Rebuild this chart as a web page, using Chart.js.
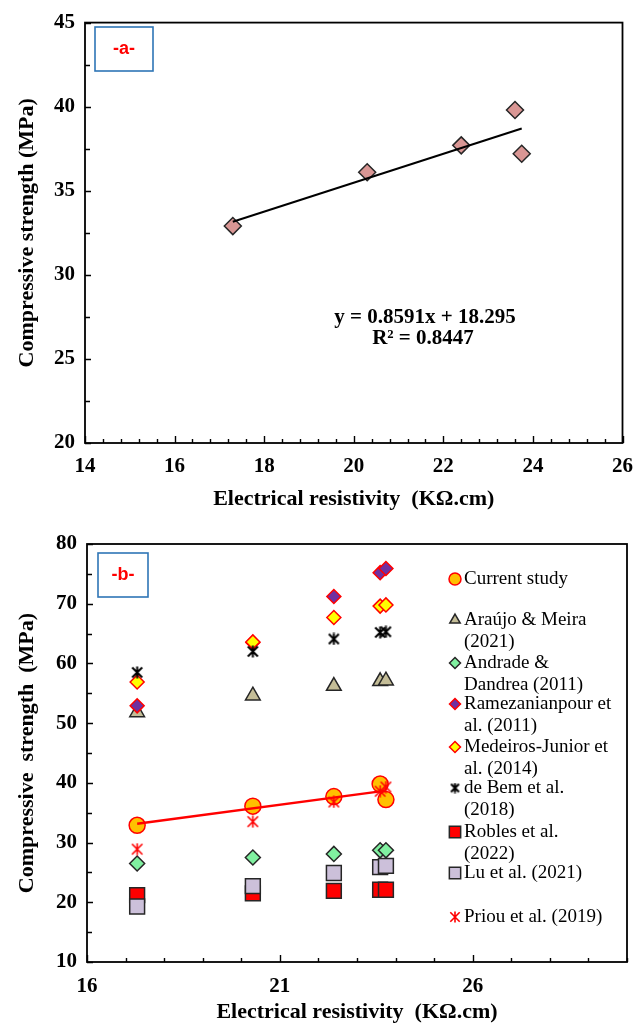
<!DOCTYPE html>
<html>
<head>
<meta charset="utf-8">
<script src="https://cdn.jsdelivr.net/npm/chart.js@4.4.1/dist/chart.umd.min.js"></script>
<style>
body{margin:0;background:#fff;}
canvas{display:block;}
</style>
</head>
<body>
<canvas id="chartA" width="644" height="520"></canvas>
<canvas id="chartB" width="644" height="506"></canvas>
<script>

// resistivity of the mixes (KΩ.cm), same for every series
const resistivity = [17.3, 20.3, 22.4, 23.6, 23.75];

// compressive strength (MPa)
const currentStudy = [32.9, 36.1, 37.7, 39.8, 37.2];
const araujoMeira = [51.8, 54.6, 56.2, 57.0, 57.1];
const andradeDandrea = [26.5, 27.5, 28.1, 28.7, 28.7];
const ramezanianpour = [52.9, 63.5, 71.2, 75.2, 75.9];
const medeirosJunior = [56.9, 63.6, 67.7, 69.6, 69.8];
const deBem = [58.5, 62.0, 64.1, 65.2, 65.3];
const robles = [21.2, 21.5, 21.9, 22.1, 22.1];
const luEtAl = [19.3, 22.7, 24.9, 25.9, 26.1];
const priou = [28.9, 33.5, 36.8, 38.6, 39.3];

// linear fit of the current study
const fitSlope = 0.8591;
const fitIntercept = 18.295;
const fitR2 = 0.8447;

// ticks
const aXLabels = [14, 16, 18, 20, 22, 24, 26];
const aXStep = 0.4;
const aYLabels = [20, 25, 30, 35, 40, 45];
const aYStep = 2.5;
const bXLabels = [16, 21, 26];
const bXMax = 30;
const bXStep = 1;
const bYLabels = [10, 20, 30, 40, 50, 60, 70, 80];
const bYStep = 5;

const serif = "'Liberation Serif', 'Times New Roman', serif";
const sans = "'Liberation Sans', Arial, sans-serif";

function tickValues(first, last, step){
    const out = [];
    const n = Math.round((last - first) / step);
    for(let i = 0; i <= n; i++){
        out.push(+(first + i * step).toFixed(4));
    }
    return out;
}

function isLabel(labels, v){
    return labels.some(l => Math.abs(l - v) < 1e-6);
}

function points(values){
    return resistivity.map((x, i) => ({x, y: values[i]}));
}

function fitLine(){
    const x0 = Math.min(...resistivity);
    const x1 = Math.max(...resistivity);
    return [
        {x: x0, y: fitSlope * x0 + fitIntercept},
        {x: x1, y: fitSlope * x1 + fitIntercept}
    ];
}

// asterisk marker: an X crossed by a vertical stroke
function asterisk(size, color, lw){
    const c = document.createElement('canvas');
    c.width = size;
    c.height = size;
    const g = c.getContext('2d');
    g.strokeStyle = color;
    g.lineWidth = lw;
    const m = lw / 2 + 0.5;
    const e = size - m;
    g.beginPath();
    g.moveTo(m, m); g.lineTo(e, e);
    g.moveTo(e, m); g.lineTo(m, e);
    g.moveTo(size / 2, 0.5); g.lineTo(size / 2, size - 0.5);
    g.stroke();
    return c;
}

function xAxis(min, max, labels, step, height, labelPad, titlePad){
    return {
        type: 'linear',
        min, max,
        afterBuildTicks: s => { s.ticks = tickValues(min, max, step).map(v => ({value: v})); },
        afterFit: s => { s.height = height; },
        grid: {display: false, drawTicks: false},
        border: {display: false},
        ticks: {
            autoSkip: false, maxRotation: 0, minRotation: 0,
            padding: labelPad, color: '#000',
            font: {family: serif, size: 21, weight: 'bold'},
            callback: v => isLabel(labels, v) ? String(v) : ''
        },
        title: {
            display: true, text: 'Electrical resistivity  (KΩ.cm)', color: '#000',
            font: {family: serif, size: 22, weight: 'bold'},
            padding: {top: 0, bottom: titlePad}
        }
    };
}

function yAxis(min, max, labels, step, width, title){
    return {
        type: 'linear',
        min, max,
        afterBuildTicks: s => { s.ticks = tickValues(min, max, step).map(v => ({value: v})); },
        afterFit: s => { s.width = width; },
        grid: {display: false, drawTicks: false},
        border: {display: false},
        ticks: {
            autoSkip: false, padding: 10, color: '#000',
            font: {family: serif, size: 21, weight: 'bold'},
            callback: v => isLabel(labels, v) ? String(v) : ''
        },
        title: {
            display: true, text: title, color: '#000',
            font: {family: serif, size: 22, weight: 'bold'},
            padding: {top: 14, bottom: 0}
        }
    };
}

// frame, inward ticks, panel tag and extras drawn over the chart
function decor(tag, box, extra){
    return {
        id: 'decor',
        afterDraw(chart){
            const {ctx, chartArea: a, scales} = chart;
            ctx.save();
            ctx.strokeStyle = '#000';
            ctx.lineWidth = 1.4;
            ctx.beginPath();
            scales.x.ticks.forEach(t => {
                const px = Math.round(scales.x.getPixelForValue(t.value)) + 0.5;
                const len = t.label ? 7 : 4;
                ctx.moveTo(px, a.bottom);
                ctx.lineTo(px, a.bottom - len);
            });
            scales.y.ticks.forEach(t => {
                const py = Math.round(scales.y.getPixelForValue(t.value)) + 0.5;
                const len = t.label ? 6 : 5;
                ctx.moveTo(a.left, py);
                ctx.lineTo(a.left + len, py);
            });
            ctx.stroke();

            ctx.lineWidth = 1.8;
            ctx.strokeRect(a.left, a.top, a.right - a.left, a.bottom - a.top);

            ctx.strokeStyle = '#2E75B6';
            ctx.lineWidth = 1.6;
            ctx.strokeRect(box[0], box[1], box[2], box[3]);
            ctx.fillStyle = '#FF0000';
            ctx.font = `bold 18px ${sans}`;
            ctx.textAlign = 'center';
            ctx.textBaseline = 'middle';
            ctx.fillText(tag, box[0] + box[2] / 2, box[1] + box[3] / 2);

            if(extra){
                extra(ctx, chart);
            }
            ctx.restore();
        }
    };
}

// ---- panel a ----

new Chart(document.getElementById('chartA'), {
    type: 'scatter',
    data: {
        datasets: [
            {
                data: fitLine(),
                showLine: true,
                borderColor: '#000',
                borderWidth: 2,
                pointRadius: 0,
                order: 0
            },
            {
                data: points(currentStudy),
                pointStyle: 'rectRot',
                pointRadius: 8.5,
                pointBackgroundColor: '#D99694',
                pointBorderColor: '#262626',
                pointBorderWidth: 1.5,
                order: 1
            }
        ]
    },
    options: {
        responsive: false,
        animation: false,
        layout: {padding: {left: 0, right: 17, top: 19, bottom: 0}},
        plugins: {legend: {display: false}, tooltip: {enabled: false}},
        scales: {
            x: xAxis(14, 26, aXLabels, aXStep, 77, 11, 7),
            y: yAxis(20, 45, aYLabels, aYStep, 85, 'Compressive strength (MPa)')
        }
    },
    plugins: [decor('-a-', [95, 27, 58, 44], (ctx) => {
        ctx.fillStyle = '#000';
        ctx.font = `bold 21px ${serif}`;
        ctx.textAlign = 'center';
        ctx.fillText(`y = ${fitSlope}x + ${fitIntercept}`, 425, 318);
        ctx.fillText(`R² = ${fitR2}`, 423, 339);
    })]
});

// ---- panel b ----

const seriesB = [
    {name: ['Current study'], values: currentStudy, style: 'circle', radius: 8, legendRadius: 6,
     fill: '#FFC000', stroke: '#FF0000', width: 1.5, order: 2},
    {name: ['Araújo & Meira', '(2021)'], values: araujoMeira, style: 'triangle', radius: 8.5, legendRadius: 6,
     fill: '#C4BD97', stroke: '#262626', width: 1.5, order: 9},
    {name: ['Andrade &', 'Dandrea (2011)'], values: andradeDandrea, style: 'rectRot', radius: 7.5, legendRadius: 5.5,
     fill: '#80F0A0', stroke: '#262626', width: 1.5, order: 8},
    {name: ['Ramezanianpour et', 'al. (2011)'], values: ramezanianpour, style: 'rectRot', radius: 7, legendRadius: 5.5,
     fill: '#7030A0', stroke: '#FF0000', width: 1.5, order: 7},
    {name: ['Medeiros-Junior et', 'al. (2014)'], values: medeirosJunior, style: 'rectRot', radius: 7, legendRadius: 5.5,
     fill: '#FFFF00', stroke: '#FF0000', width: 1.5, order: 6},
    {name: ['de Bem et al.', '(2018)'], values: deBem, style: asterisk(13, '#000', 2), legendStyle: asterisk(11, '#000', 2),
     order: 5},
    {name: ['Robles et al.', '(2022)'], values: robles, style: 'rect', radius: 10.5, legendRadius: 8,
     fill: '#FF0000', stroke: '#262626', width: 1.5, order: 4},
    {name: ['Lu et al. (2021)'], values: luEtAl, style: 'rect', radius: 10.5, legendRadius: 8,
     fill: '#CCC0DA', stroke: '#262626', width: 1.5, order: 3},
    {name: ['Priou et al. (2019)'], values: priou, style: asterisk(13, '#FF0000', 1.6), legendStyle: asterisk(12, '#FF0000', 1.6),
     order: 1}
];

// legend layout inside the plot
const legendRowY = [59, 100, 143, 184, 227, 268, 312, 353, 397];
const legendMarkX = 455;
const legendTextX = 464;
const legendLine = 22;

const datasetsB = seriesB.map(s => ({
    data: points(s.values),
    pointStyle: s.style,
    pointRadius: s.radius || 6,
    pointBackgroundColor: s.fill,
    pointBorderColor: s.stroke,
    pointBorderWidth: s.width || 0,
    order: s.order
}));

datasetsB.push({
    data: fitLine(),
    showLine: true,
    borderColor: '#FF0000',
    borderWidth: 2.5,
    pointRadius: 0,
    order: 0
});

function drawLegendB(ctx){
    ctx.font = `19px ${serif}`;
    ctx.textAlign = 'left';
    ctx.textBaseline = 'middle';
    seriesB.forEach((s, i) => {
        const y = legendRowY[i];
        if(s.legendStyle){
            const c = s.legendStyle;
            ctx.drawImage(c, legendMarkX - c.width / 2, y - c.height / 2);
        }else{
            ctx.fillStyle = s.fill;
            ctx.strokeStyle = s.stroke;
            ctx.lineWidth = s.width;
            Chart.helpers.drawPoint(ctx, {
                pointStyle: s.style, radius: s.legendRadius, rotation: 0, borderWidth: s.width
            }, legendMarkX, y);
        }
        ctx.fillStyle = '#000';
        s.name.forEach((line, k) => {
            ctx.fillText(line, legendTextX, y + k * legendLine);
        });
    });
}

new Chart(document.getElementById('chartB'), {
    type: 'scatter',
    data: {datasets: datasetsB},
    options: {
        responsive: false,
        animation: false,
        layout: {padding: {left: 0, right: 17, top: 24, bottom: 0}},
        plugins: {legend: {display: false}, tooltip: {enabled: false}},
        scales: {
            x: xAxis(16, bXMax, bXLabels, bXStep, 64, 12, 0),
            y: yAxis(10, 80, bYLabels, bYStep, 87, 'Compressive  strength  (MPa)')
        }
    },
    plugins: [decor('-b-', [98, 33, 50, 44], drawLegendB)]
});
</script>
</body>
</html>
